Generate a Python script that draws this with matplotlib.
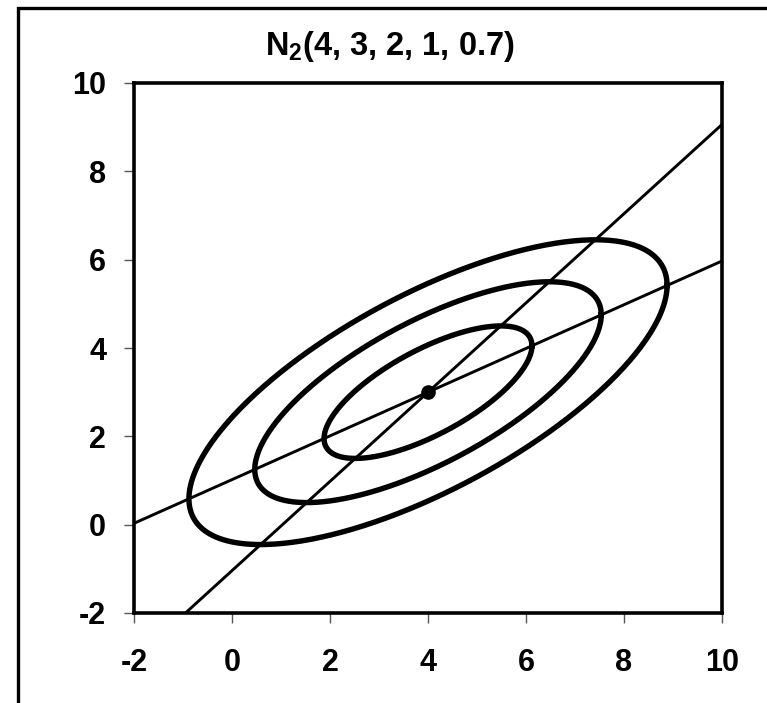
import numpy as np
import matplotlib
matplotlib.use("Agg")
import matplotlib.pyplot as plt
from matplotlib.patches import Rectangle

# ---- data ----
mean = [4.0, 3.0]          # (mu_x, mu_y)
variances = [2.0, 1.0]     # (var_x, var_y)
rho = 0.7
levels = [1.5, 2.5, 3.45]  # Mahalanobis radii of the contours
xticks = [-2, 0, 2, 4, 6, 8, 10]
yticks = [-2, 0, 2, 4, 6, 8, 10]
title = "$N_2$(4, 3, 2, 1, 0.7)"

plt.rcParams['font.family'] = ['Liberation Sans', 'DejaVu Sans']
plt.rcParams['font.weight'] = 'bold'
plt.rcParams['mathtext.fontset'] = 'custom'
plt.rcParams['mathtext.rm'] = 'Liberation Sans:bold'
plt.rcParams['mathtext.it'] = 'Liberation Sans:bold'
plt.rcParams['mathtext.bf'] = 'Liberation Sans:bold'

fig = plt.figure(figsize=(7.67, 7.03), dpi=100)
ax = fig.add_axes([134/767, 1-613/703, (722-134)/767, (613-83)/703])

sx, sy = np.sqrt(variances[0]), np.sqrt(variances[1])
cov = np.array([[sx*sx, rho*sx*sy], [rho*sx*sy, sy*sy]])
L = np.linalg.cholesky(cov)
t = np.linspace(0, 2*np.pi, 400)
circ = np.vstack([np.cos(t), np.sin(t)])
for d in levels:
    pts = L @ (d*circ)
    ax.plot(mean[0]+pts[0], mean[1]+pts[1], color='black', lw=3.9,
            solid_joinstyle='round')

xs = np.array([-3, 11])
# regression of y on x
ax.plot(xs, mean[1] + rho*sy/sx*(xs-mean[0]), color='black', lw=2.1)
# regression of x on y
ax.plot(xs, mean[1] + (xs-mean[0])/(rho*sx/sy), color='black', lw=2.1)
ax.plot([mean[0]], [mean[1]], 'o', color='black', ms=9.5)

ax.set_xlim(-2, 10)
ax.set_ylim(-2, 10)
ax.set_xticks(xticks)
ax.set_yticks(yticks)
ax.set_xticklabels([str(v) for v in xticks])
ax.set_yticklabels([str(v) for v in yticks])
for s in ax.spines.values():
    s.set_linewidth(2.6)
ax.tick_params(direction='out', length=7, width=1, color='#555555',
               labelsize=22)
ax.tick_params(axis='x', pad=18)
ax.tick_params(axis='y', pad=13)
for lab in ax.get_xticklabels() + ax.get_yticklabels():
    lab.set_fontweight('bold')

fig.text(390/767, 1-47/703, title, ha='center', va='center',
         fontsize=23.5, fontweight='bold')

fig.patches.append(Rectangle((18/767, -0.1), 1.2, 1-8/703+0.1,
                             transform=fig.transFigure, fill=False,
                             lw=2.4, edgecolor='black'))

fig.savefig("out.png", dpi=100)
